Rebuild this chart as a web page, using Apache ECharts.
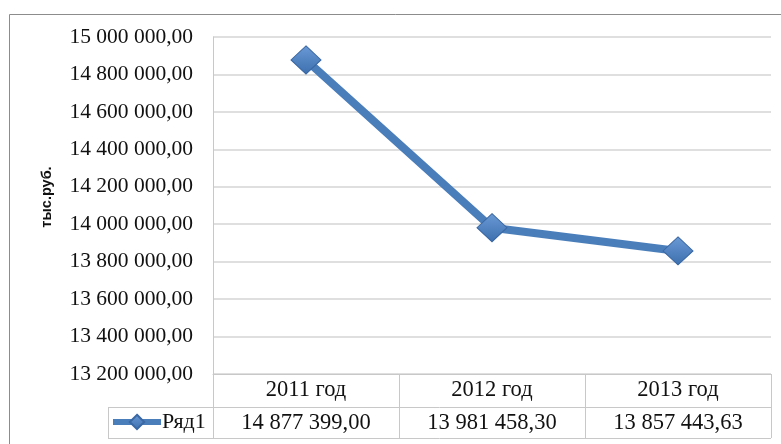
<!DOCTYPE html>
<html>
<head>
<meta charset="utf-8">
<script src="https://cdn.jsdelivr.net/npm/echarts@6/dist/echarts.min.js"></script>
<style>
  html, body { margin: 0; padding: 0; background: #fff; }
  #chart { width: 781px; height: 444px; }
</style>
</head>
<body>
<div id="chart"></div>
<script>
const years = ["2011 год", "2012 год", "2013 год"];
const values = [14877399.0, 13981458.3, 13857443.63];
const seriesName = "Ряд1";
const yMin = 13200000;
const yMax = 15000000;
const yStep = 200000;

// 14877399 -> "14 877 399,00"
function fmt(v) {
  const parts = v.toFixed(2).split(".");
  return parts[0].replace(/\B(?=(\d{3})+(?!\d))/g, " ") + "," + parts[1];
}

const serif = "Liberation Serif";
const gridColor = "#c8c8c8";
const blue = "#4a7ebb";

const chart = echarts.init(document.getElementById("chart"));
chart.setOption({
  animation: false,
  grid: { left: 213, right: 10, top: 37, bottom: 70 },
  legend: {
    left: 110,
    top: 411,
    padding: 0,
    itemWidth: 48,
    itemHeight: 18,
    itemGap: 2,
    lineStyle: { width: 6, color: blue },
    textStyle: { fontFamily: serif, fontSize: 22, color: "#111", padding: [0, 0, 0, -4] },
    data: [seriesName],
  },
  xAxis: {
    type: "category",
    data: years,
    boundaryGap: true,
    axisLine: { lineStyle: { color: gridColor, width: 1 } },
    axisTick: { show: true, length: 64, lineStyle: { color: gridColor } },
    axisLabel: {
      margin: 0,
      interval: 0,
      formatter: (val, idx) => "{a|" + val + "}\n{a|" + fmt(values[idx]) + "}",
      rich: {
        a: { fontFamily: serif, fontSize: 22.5, color: "#111", lineHeight: 33 },
      },
    },
  },
  yAxis: {
    type: "value",
    min: yMin,
    max: yMax,
    interval: yStep,
    name: "тыс.руб.",
    nameLocation: "middle",
    nameGap: 159,
    nameTextStyle: {
      fontFamily: "Liberation Sans",
      fontWeight: "bold",
      fontSize: 14.5,
      color: "#111",
      padding: [0, 0, 0, 17],
    },
    axisLine: { show: true, lineStyle: { color: gridColor } },
    axisTick: { show: false },
    axisLabel: {
      margin: 20,
      fontFamily: serif,
      fontSize: 21.5,
      color: "#111",
      formatter: (v) => fmt(v),
    },
    splitLine: { lineStyle: { color: "#d4d4d4", width: 1.5 } },
  },
  series: [
    {
      name: seriesName,
      type: "line",
      data: values,
      symbol: "diamond",
      symbolSize: [30, 28],
      lineStyle: { color: blue, width: 8 },
      itemStyle: {
        color: new echarts.graphic.LinearGradient(0, 0, 0, 1, [
          { offset: 0, color: "#6a9ad6" },
          { offset: 1, color: "#3d6fae" },
        ]),
        borderColor: "#3a68a4",
        borderWidth: 1,
      },
    },
  ],
  graphic: [
    {
      type: "rect",
      shape: { x: 9.5, y: 14.5, width: 790, height: 450 },
      style: { fill: "none", stroke: "#8c8c8c", lineWidth: 1 },
      silent: true,
    },
    {
      type: "line",
      shape: { x1: 108, y1: 407.5, x2: 771, y2: 407.5 },
      style: { stroke: gridColor, lineWidth: 1 },
      silent: true,
    },
    {
      type: "line",
      shape: { x1: 108, y1: 438.5, x2: 771, y2: 438.5 },
      style: { stroke: gridColor, lineWidth: 1 },
      silent: true,
    },
    {
      type: "line",
      shape: { x1: 108.5, y1: 407, x2: 108.5, y2: 438 },
      style: { stroke: gridColor, lineWidth: 1 },
      silent: true,
    },
  ],
});
</script>
</body>
</html>
